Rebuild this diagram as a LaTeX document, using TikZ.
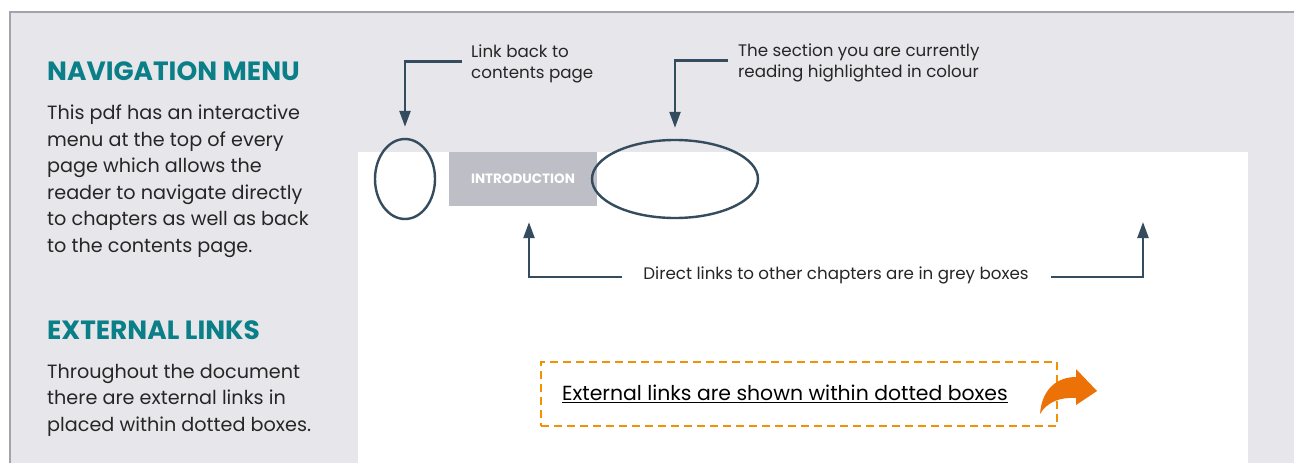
\documentclass[tikz,border=0pt]{standalone}
\usepackage{fontspec}
\setmainfont{Poppins}
\usetikzlibrary{arrows.meta,positioning,shapes.geometric}
\definecolor{panelgrey}{HTML}{E7E6EB}
\definecolor{rimgrey}{HTML}{A2A3AD}
\definecolor{navteal}{HTML}{0A7F88}
\definecolor{inkblue}{HTML}{344C5E}
\definecolor{chapgrey}{HTML}{BEBEC6}
\definecolor{linkorange}{HTML}{F39200}
\definecolor{swoosh}{HTML}{EC7207}
\tikzset{
  pointer/.style={-{Triangle[width=11pt,length=16pt]}, line width=2.4pt, inkblue},
  ring/.style={ellipse, draw=inkblue, line width=2.4pt, inner sep=0pt},
  heading/.style={anchor=north west, inner sep=0pt, text=navteal, font=\fontsize{26.4}{30}\selectfont\bfseries},
  blurb/.style={anchor=north west, inner sep=0pt, align=left, text=black!85, font=\fontsize{19.2}{26.5}\selectfont},
  callout/.style={inner sep=0pt, align=left, text=black!85, font=\fontsize{16.7}{21}\selectfont},
  chapbox/.style={fill=chapgrey, text=white, minimum width=148pt, minimum height=54pt, inner sep=0pt, font=\fontsize{13.5}{15}\selectfont\bfseries},
  linkbox/.style={draw=linkorange, line width=2.2pt, dash pattern=on 8pt off 5pt, minimum width=516pt, minimum height=64pt, inner sep=0pt},
  linktext/.style={anchor=west, inner sep=0pt, text=black, font=\fontsize{20.4}{24}\selectfont}
}

\begin{document}
\begin{tikzpicture}[x=1pt,y=-1pt]
  \useasboundingbox (0,0) rectangle (1294,463);
  \fill[panelgrey] (10,12) rectangle (1294,463);
  \draw[rimgrey, line width=1.3pt] (1294,12) -- (10,12) -- (10,463);
  \fill[white] (358,152) rectangle (1248,463);

  % left column
  \node[heading] (navhead) at (47,62) {NAVIGATION MENU};
  \node[blurb] (navtext) at (47,105) {This pdf has an interactive\\menu at the top of every\\page which allows the\\reader to navigate directly\\to chapters as well as back\\to the contents page.};
  \node[heading] (exthead) at (47,320) {EXTERNAL LINKS};
  \node[blurb] (exttext) at (47,364) {Throughout the document\\there are external links in\\placed within dotted boxes.};

  % menu bar
  \node[ring, minimum width=60pt, minimum height=80pt] (homering) at (405,179) {};
  \node[chapbox] (intro) at (523,179) {INTRODUCTION};
  \node[ring, minimum width=166pt, minimum height=78pt] (nowring) at (675,179) {};

  \node[callout, anchor=north west] (backlbl) at (471,45) {Link back to\\contents page};
  \node[callout, anchor=north west] (nowlbl) at (738,44) {The section you are currently\\reading highlighted in colour};
  \node[callout] (dirlbl) at (836,275) {Direct links to other chapters are in grey boxes};
  \coordinate (nextchap) at (1143,222);

  \draw[pointer, shorten >=11pt] ([xshift=-9pt,yshift=3pt]backlbl.west) -| (homering.north);
  \draw[pointer, shorten >=11pt] ([xshift=-10pt,yshift=3pt]nowlbl.west) -| (nowring.north);
  \draw[pointer, shorten >=16pt] ([xshift=-21pt,yshift=-2pt]dirlbl.west) -| ([xshift=6pt]intro.south);
  \draw[pointer] ([xshift=22pt,yshift=-2pt]dirlbl.east) -| (nextchap);

  % external link
  \node[linkbox] (extbox) at (799,394) {};
  \node[linktext, right=22pt of extbox.west] (exttxt) {\underline{External links are shown within dotted boxes}};
  \fill[swoosh] (1040,414) .. controls (1042,388) and (1058,377) .. (1076,377) -- (1076,369) -- (1097,391)
    -- (1076,405) -- (1076,398) .. controls (1060,397) and (1047,402) .. (1040,414) -- cycle;
\end{tikzpicture}
\end{document}
